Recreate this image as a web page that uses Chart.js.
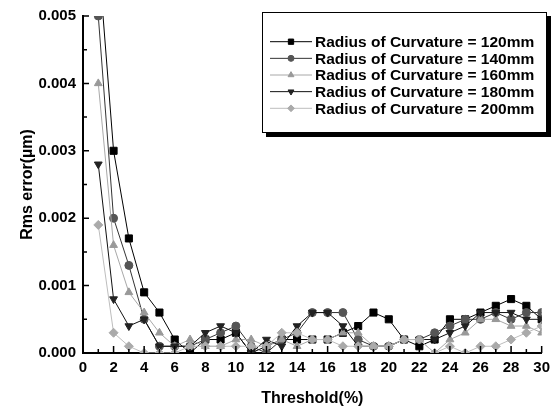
<!DOCTYPE html>
<html lang="en">
<head>
  <meta charset="UTF-8" />
  <title>Rms error vs threshold</title>
  <script src="https://cdn.jsdelivr.net/npm/chart.js@4.4.0/dist/chart.umd.min.js"></script>
  <style>
    html, body { margin: 0; padding: 0; background: #fff; }
  </style>
</head>
<body>
  <canvas id="myChart" width="556" height="412"></canvas>

  <script>
    // threshold (%) on x, rms error (um) on y
    const thresholds = [1, 2, 3, 4, 5, 6, 7, 8, 9, 10, 11, 12, 13, 14, 15,
      16, 17, 18, 19, 20, 21, 22, 23, 24, 25, 26, 27, 28, 29, 30];

    const rms120 = [0.0059, 0.0030, 0.0017, 0.0009, 0.0006, 0.0002, 0.0000, 0.0002, 0.0002, 0.0003,
      0.0000, 0.0001, 0.0002, 0.0002, 0.0002, 0.0002, 0.0003, 0.0004, 0.0006, 0.0005,
      0.0002, 0.0001, 0.0002, 0.0005, 0.0005, 0.0006, 0.0007, 0.0008, 0.0007, 0.0005];
    const rms140 = [0.0050, 0.0020, 0.0013, 0.0005, 0.0001, 0.0001, 0.0001, 0.0002, 0.0003, 0.0004,
      0.0001, 0.0000, 0.0002, 0.0003, 0.0006, 0.0006, 0.0006, 0.0002, 0.0001, 0.0001,
      0.0002, 0.0002, 0.0003, 0.0004, 0.0005, 0.0005, 0.0006, 0.0005, 0.0006, 0.0006];
    const rms160 = [0.0040, 0.0016, 0.0009, 0.0006, 0.0003, 0.0001, 0.0002, 0.0001, 0.0001, 0.0002,
      0.0002, 0.0001, 0.0002, 0.0001, 0.0002, 0.0002, 0.0003, 0.0003, 0.0001, 0.0001,
      0.0002, 0.0002, 0.0000, 0.0002, 0.0003, 0.0005, 0.0005, 0.0004, 0.0004, 0.0003];
    const rms180 = [0.0028, 0.0008, 0.0004, 0.0005, 0.0001, 0.0001, 0.0001, 0.0003, 0.0004, 0.0003,
      0.0000, 0.0002, 0.0001, 0.0004, 0.0006, 0.0006, 0.0004, 0.0001, 0.0001, 0.0001,
      0.0002, 0.0002, 0.0002, 0.0003, 0.0004, 0.0006, 0.0006, 0.0006, 0.0005, 0.0005];
    const rms200 = [0.0019, 0.0003, 0.0001, 0.0000, 0.0000, 0.0000, 0.0001, 0.0001, 0.0001, 0.0001,
      0.0001, 0.0001, 0.0003, 0.0003, 0.0002, 0.0002, 0.0001, 0.0001, 0.0001, 0.0001,
      0.0002, 0.0002, 0.0000, 0.0001, 0.0000, 0.0001, 0.0001, 0.0002, 0.0003, 0.0004];

    const seriesNames = [
      'Radius of Curvature = 120mm',
      'Radius of Curvature = 140mm',
      'Radius of Curvature = 160mm',
      'Radius of Curvature = 180mm',
      'Radius of Curvature = 200mm'
    ];

    const xTicksMajor = [0, 2, 4, 6, 8, 10, 12, 14, 16, 18, 20, 22, 24, 26, 28, 30];
    const yTicksMajor = [0, 0.001, 0.002, 0.003, 0.004, 0.005];

    const FONT = 'Arial, "Liberation Sans", sans-serif';

    function toPoints(values) {
      return values.map((v, i) => ({ x: thresholds[i], y: v }));
    }

    function makeSet(label, values, line, fill, style, radius, rotation, order) {
      return {
        label: label,
        data: toPoints(values),
        borderColor: line,
        borderWidth: 1,
        backgroundColor: fill,
        pointBackgroundColor: fill,
        pointBorderColor: fill,
        pointBorderWidth: 1,
        pointStyle: style,
        pointRadius: radius,
        pointRotation: rotation,
        tension: 0,
        order: order
      };
    }

    const datasets = [
      makeSet(seriesNames[0], rms120, '#000000', '#000000', 'rect', 5, 0, 5),
      makeSet(seriesNames[1], rms140, '#333333', '#555555', 'circle', 4, 0, 4),
      makeSet(seriesNames[2], rms160, '#a8a8a8', '#999999', 'triangle', 4.5, 0, 3),
      makeSet(seriesNames[3], rms180, '#111111', '#222222', 'triangle', 4.5, 180, 2),
      makeSet(seriesNames[4], rms200, '#bdbdbd', '#aaaaaa', 'rectRot', 4.5, 0, 1)
    ];

    // ticks pointing into the plot, Origin style
    const innerTicks = {
      id: 'innerTicks',
      afterDraw(chart) {
        const { ctx, chartArea: a, scales: { x, y } } = chart;
        ctx.save();
        ctx.strokeStyle = '#000';
        ctx.lineWidth = 1.5;
        ctx.beginPath();
        for (let v = 0; v <= 30; v++) {
          const px = x.getPixelForValue(v);
          const len = v % 2 === 0 ? 7 : 4;
          ctx.moveTo(px, a.bottom);
          ctx.lineTo(px, a.bottom - len);
        }
        for (let i = 0; i <= 10; i++) {
          const py = y.getPixelForValue(i * 0.0005);
          const len = i % 2 === 0 ? 6 : 4;
          ctx.moveTo(a.left, py);
          ctx.lineTo(a.left + len, py);
        }
        ctx.stroke();
        ctx.restore();
      }
    };

    // boxed legend with a drop shadow inside the plot
    const legendBox = {
      id: 'legendBox',
      afterDraw(chart) {
        const ctx = chart.ctx;
        const bx = 262, by = 12, bw = 285, bh = 121;
        ctx.save();
        ctx.fillStyle = '#000';
        ctx.fillRect(bx + 4, by + 4, bw, bh);
        ctx.fillStyle = '#fff';
        ctx.fillRect(bx, by, bw, bh);
        ctx.strokeStyle = '#000';
        ctx.lineWidth = 1;
        ctx.strokeRect(bx + 0.5, by + 0.5, bw - 1, bh - 1);

        ctx.font = 'bold 15.5px ' + FONT;
        ctx.textBaseline = 'middle';
        chart.data.datasets.forEach((ds, i) => {
          const ry = 41.7 + i * 16.65;
          ctx.strokeStyle = ds.borderColor;
          ctx.lineWidth = 1;
          ctx.beginPath();
          ctx.moveTo(270, ry);
          ctx.lineTo(312, ry);
          ctx.stroke();
          ctx.fillStyle = ds.pointBackgroundColor;
          ctx.strokeStyle = ds.pointBorderColor;
          Chart.helpers.drawPoint(ctx, {
            pointStyle: ds.pointStyle,
            radius: ds.pointRadius * 0.75,
            rotation: ds.pointRotation,
            borderWidth: 1
          }, 291, ry);
          ctx.fillStyle = '#000';
          ctx.fillText(ds.label, 315, ry + 1);
        });
        ctx.restore();
      }
    };

    const ctx = document.getElementById('myChart').getContext('2d');
    const myChart = new Chart(ctx, {
      type: 'line',
      data: { datasets: datasets },
      plugins: [innerTicks, legendBox],
      options: {
        responsive: false,
        animation: false,
        layout: { padding: { top: 16, right: 13, left: 0, bottom: 0 } },
        plugins: { legend: { display: false }, tooltip: { enabled: false } },
        scales: {
          x: {
            type: 'linear',
            min: 0,
            max: 30,
            afterFit: s => { s.height = 59; },
            afterBuildTicks: s => { s.ticks = xTicksMajor.map(v => ({ value: v })); },
            ticks: {
              color: '#000',
              padding: 6,
              maxRotation: 0,
              font: { family: FONT, size: 15, weight: 'bold' }
            },
            grid: { drawOnChartArea: false, drawTicks: false },
            border: { display: true, color: '#000', width: 2 },
            title: {
              display: true,
              text: 'Threshold(%)',
              color: '#000',
              padding: { top: 0, bottom: 4 },
              font: { family: FONT, size: 16, weight: 'bold' }
            }
          },
          y: {
            type: 'linear',
            min: 0,
            max: 0.005,
            afterFit: s => { s.width = 83; },
            afterBuildTicks: s => { s.ticks = yTicksMajor.map(v => ({ value: v })); },
            ticks: {
              color: '#000',
              padding: 7,
              font: { family: FONT, size: 15, weight: 'bold' },
              callback: v => v.toFixed(3)
            },
            grid: { drawOnChartArea: false, drawTicks: false },
            border: { display: true, color: '#000', width: 2 },
            title: {
              display: true,
              text: 'Rms error(\u00b5m)',
              color: '#000',
              padding: { top: 18, bottom: 0 },
              font: { family: FONT, size: 16, weight: 'bold' }
            }
          }
        }
      }
    });
  </script>
</body>
</html>
